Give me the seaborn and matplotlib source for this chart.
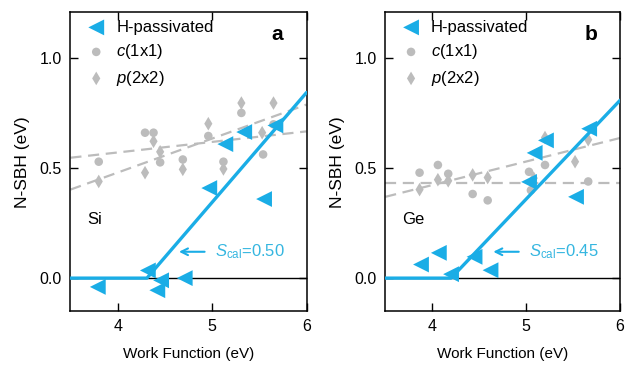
import numpy as np
import pandas as pd
import matplotlib
matplotlib.use("Agg")
import matplotlib.pyplot as plt
import seaborn as sns

BLUE = "#1aade6"
TEXT_BLUE = "#35b6e0"
GRAY = "#bcbcbc"

# ---- panel a: Si ----
si_h_x = [3.79, 4.32, 4.42, 4.46, 4.71, 4.97, 5.14, 5.34, 5.55, 5.67]
si_h_y = [-0.04, 0.035, -0.055, -0.01, 0.0, 0.41, 0.61, 0.665, 0.36, 0.695]
si_c_x = [3.80, 4.29, 4.38, 4.45, 4.69, 4.96, 5.12, 5.31, 5.54, 5.65]
si_c_y = [0.53, 0.662, 0.662, 0.527, 0.54, 0.647, 0.53, 0.752, 0.563, 0.70]
si_p_x = [3.80, 4.29, 4.38, 4.45, 4.69, 4.96, 5.12, 5.31, 5.53, 5.65]
si_p_y = [0.44, 0.48, 0.623, 0.575, 0.495, 0.703, 0.497, 0.797, 0.662, 0.797]
si_fit_x = [3.5, 4.31, 6.0]
si_fit_y = [0.0, 0.0, 0.845]
si_c_fit = [0.548, 0.668]   # dashed line at x=3.5 and x=6
si_p_fit = [0.403, 0.79]
si_s = "0.50"

# ---- panel b: Ge ----
ge_h_x = [3.88, 4.07, 4.20, 4.45, 4.62, 5.03, 5.09, 5.21, 5.53, 5.67]
ge_h_y = [0.062, 0.115, 0.018, 0.097, 0.036, 0.438, 0.57, 0.627, 0.37, 0.68]
ge_c_x = [3.865, 4.06, 4.17, 4.43, 4.59, 5.03, 5.05, 5.20, 5.66]
ge_c_y = [0.48, 0.515, 0.475, 0.383, 0.354, 0.484, 0.40, 0.515, 0.44]
ge_p_x = [3.865, 4.06, 4.17, 4.43, 4.59, 5.08, 5.20, 5.52, 5.66]
ge_p_y = [0.403, 0.448, 0.443, 0.47, 0.458, 0.455, 0.64, 0.53, 0.63]
ge_fit_x = [3.5, 4.20, 6.0]
ge_fit_y = [0.0, 0.0, 0.81]
ge_c_fit = [0.432, 0.432]
ge_p_fit = [0.37, 0.638]
ge_s = "0.45"

xlim = (3.5, 6.0)
ylim = (-0.15, 1.21)

sns.set_style("ticks")
plt.rcParams["font.family"] = ["Liberation Sans", "DejaVu Sans"]
plt.rcParams["mathtext.fontset"] = "custom"
plt.rcParams["mathtext.rm"] = "Liberation Sans"
plt.rcParams["mathtext.it"] = "Liberation Sans:italic"
for key in ["text.color", "axes.labelcolor", "xtick.color", "ytick.color"]:
    plt.rcParams[key] = "black"

fig = plt.figure(figsize=(6.4, 3.73), dpi=100)
ax_a = fig.add_axes([0.110, 0.166, 0.369, 0.801])
ax_b = fig.add_axes([0.602, 0.166, 0.367, 0.801])


def draw_panel(ax, hx, hy, cx, cy, px, py, fx, fy, cfit, pfit, s_val,
               letter, name):
    ax.axhline(0, color="black", lw=1.0, zorder=1)
    sns.lineplot(x=list(xlim), y=cfit, ax=ax, color=GRAY, lw=1.6,
                 linestyle=(0, (5, 3)), zorder=2)
    sns.lineplot(x=list(xlim), y=pfit, ax=ax, color=GRAY, lw=1.6,
                 linestyle=(0, (5, 3)), zorder=2)
    sns.scatterplot(x=cx, y=cy, ax=ax, marker="o", s=38, color=GRAY,
                    edgecolor="none", zorder=3, label="$c$(1x1)")
    sns.scatterplot(x=px, y=py, ax=ax, marker="d", s=48, color=GRAY,
                    edgecolor="none", zorder=3, label="$p$(2x2)")
    sns.lineplot(x=fx, y=fy, ax=ax, color=BLUE, lw=2.4, sort=False,
                 estimator=None, zorder=4)
    sns.scatterplot(x=hx, y=hy, ax=ax, marker="<", s=130, color=BLUE,
                    edgecolor="none", zorder=5, label="H-passivated")

    ax.annotate("", xy=(4.62, 0.12), xytext=(4.95, 0.12),
                arrowprops=dict(arrowstyle="->", color=BLUE, lw=1.5,
                                mutation_scale=12))
    ax.text(5.03, 0.12, r"$S_{\mathrm{cal}}$=" + s_val, color=TEXT_BLUE,
            fontsize=12, va="center", ha="left")
    ax.text(0.07, 0.305, name, transform=ax.transAxes, fontsize=12,
            va="center", ha="left")
    ax.text(0.875, 0.925, letter, transform=ax.transAxes, fontsize=15,
            fontweight="bold", va="center", ha="center")

    ax.set_xlim(*xlim)
    ax.set_ylim(*ylim)
    ax.set_xticks([4, 5, 6])
    ax.set_yticks([0.0, 0.5, 1.0])
    ax.set_yticklabels(["0.0", "0.5", "1.0"])
    ax.tick_params(direction="in", length=6, width=1.0, top=True,
                   right=True, labelsize=11.5, pad=6)
    for sp in ax.spines.values():
        sp.set_linewidth(1.1)
        sp.set_color("black")
    ax.set_xlabel("Work Function (eV)", fontsize=11, labelpad=9)
    ax.set_ylabel("N-SBH (eV)", fontsize=12.5, labelpad=7)

    handles, labels = ax.get_legend_handles_labels()
    order = [labels.index("H-passivated"), labels.index("$c$(1x1)"),
             labels.index("$p$(2x2)")]
    ax.legend([handles[i] for i in order], [labels[i] for i in order],
              loc="upper left", bbox_to_anchor=(0.06, 0.975), frameon=False,
              fontsize=12, borderpad=0, borderaxespad=0, handlelength=1.4,
              handletextpad=0.5, labelspacing=0.45)


draw_panel(ax_a, si_h_x, si_h_y, si_c_x, si_c_y, si_p_x, si_p_y,
           si_fit_x, si_fit_y, si_c_fit, si_p_fit, si_s, "a", "Si")
draw_panel(ax_b, ge_h_x, ge_h_y, ge_c_x, ge_c_y, ge_p_x, ge_p_y,
           ge_fit_x, ge_fit_y, ge_c_fit, ge_p_fit, ge_s, "b", "Ge")

fig.savefig("out.png", dpi=100)
